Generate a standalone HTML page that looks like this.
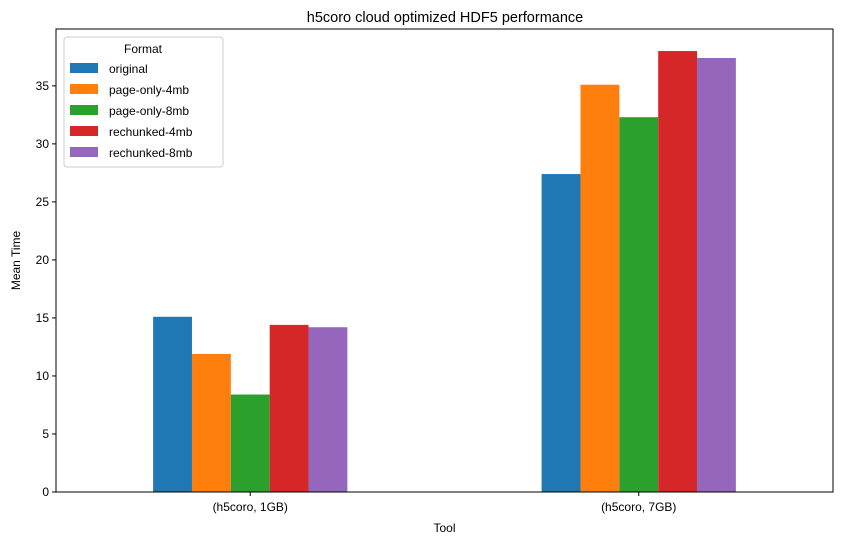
<!DOCTYPE html>
<html><head><meta charset="utf-8"><style>
body{margin:0;background:#fff;}
svg{font-family:"Liberation Sans","DejaVu Sans",sans-serif;}
</style></head><body>
<svg id="chart" width="842" height="545" viewBox="0 0 842 545">
<text x="445" y="22" font-size="14.5" text-anchor="middle">h5coro cloud optimized HDF5 performance</text>
<g id="bars"></g>
<g id="axes"></g>
</svg>
<script>
const categories = ["(h5coro, 1GB)", "(h5coro, 7GB)"];
const seriesNames = ["original","page-only-4mb","page-only-8mb","rechunked-4mb","rechunked-8mb"];
const original = [15.1, 27.4];
const pageOnly4mb = [11.9, 35.1];
const pageOnly8mb = [8.4, 32.3];
const rechunked4mb = [14.4, 38.0];
const rechunked8mb = [14.2, 37.4];
const yTicks = [0,5,10,15,20,25,30,35];
const colors = ["#1f77b4","#ff7f0e","#2ca02c","#d62728","#9467bd"];
const series = [original,pageOnly4mb,pageOnly8mb,rechunked4mb,rechunked8mb];

const L=56,R=833,T=29,B=492,yMax=39.9;
const ns="http://www.w3.org/2000/svg";
const y=v=>B-(v/yMax)*(B-T);
const x=v=>L+(v+0.5)/2*(R-L);
function mk(tag,attrs,parent){const e=document.createElementNS(ns,tag);for(const k in attrs)e.setAttribute(k,attrs[k]);parent.appendChild(e);return e;}
const bars=document.getElementById('bars'),axes=document.getElementById('axes');
const bw=0.1;
series.forEach((s,si)=>{s.forEach((v,ci)=>{
  const x0=x(ci-0.25+si*bw),x1=x(ci-0.25+(si+1)*bw);
  const r=mk('rect',{x:x0,y:y(v),width:x1-x0,height:B-y(v),fill:colors[si]},bars);
  
  
});});
const frame=mk('rect',{x:L,y:T,width:R-L,height:B-T,fill:'none',stroke:'#000','stroke-width':1},axes);


yTicks.forEach(t=>{
  mk('line',{x1:L-4,x2:L,y1:y(t),y2:y(t),stroke:'#000'},axes);
  const tx=mk('text',{x:L-7,y:y(t)+4,'font-size':12,'text-anchor':'end'},axes);
  tx.textContent=t;
  
  
});
categories.forEach((c,i)=>{
  mk('line',{x1:x(i),x2:x(i),y1:B,y2:B+4,stroke:'#000'},axes);
  const tx=mk('text',{x:x(i),y:B+19,'font-size':12,'text-anchor':'middle'},axes);
  tx.textContent=c;
  
  
});
const xt=mk('text',{x:(L+R)/2,y:532,'font-size':12,'text-anchor':'middle'},axes);
xt.textContent='Tool';


const yt=mk('text',{x:20,y:(T+B)/2,'font-size':12,'text-anchor':'middle',transform:'rotate(-90 20 '+((T+B)/2)+')'},axes);
yt.textContent='Mean Time';


// legend
const lg=mk('g',{},axes);


mk('rect',{x:64,y:37,width:159,height:130,rx:3,fill:'#fff',stroke:'#ccc'},lg);
const lt=mk('text',{x:143,y:53,'font-size':12,'text-anchor':'middle'},lg);
lt.textContent='Format';
seriesNames.forEach((n,i)=>{
  const yy=63+i*21;
  const sw=mk('rect',{x:70,y:yy,width:28,height:10,fill:colors[i]},lg);
  
  
  const t=mk('text',{x:109,y:yy+10,'font-size':12},lg);
  t.textContent=n;
  
  
});
</script>
</body></html>
